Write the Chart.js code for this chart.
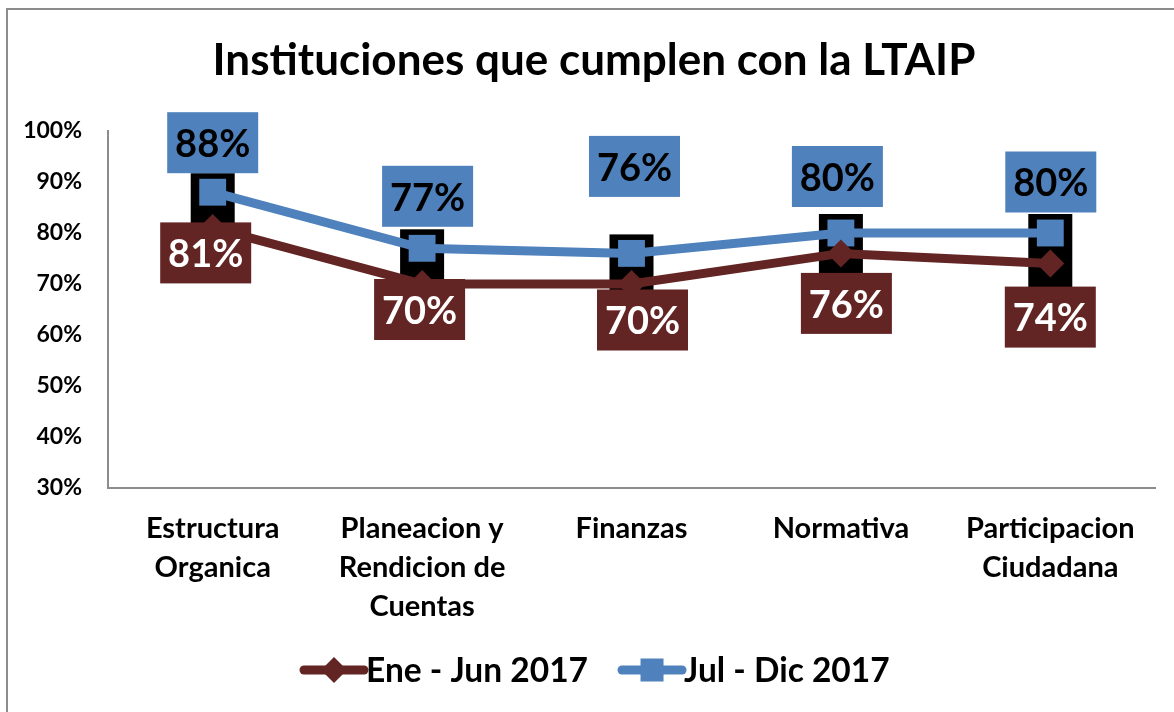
<!DOCTYPE html>
<html>
<head>
<meta charset="utf-8">
<script src="https://cdn.jsdelivr.net/npm/chart.js@4.4.0/dist/chart.umd.min.js"></script>
<style>
  body { margin: 0; background: #fff; }
  #wrap { position: relative; width: 1174px; height: 712px; }
</style>
</head>
<body>
<div id="wrap"><canvas id="myChart"></canvas></div>
<script>
// chart values
const categories = [
  ["Estructura", "Organica"],
  ["Planeacion y", "Rendicion de", "Cuentas"],
  ["Finanzas"],
  ["Normativa"],
  ["Participacion", "Ciudadana"]
];
const eneJun = [81, 70, 70, 76, 74];
const julDic = [88, 77, 76, 80, 80];
const seriesNames = ["Ene - Jun 2017", "Jul - Dic 2017"];
const chartTitle = "Instituciones que cumplen con la LTAIP";
const yMin = 30;
const yMax = 100;
const yStep = 10;

const RED = "#632523";
const BLUE = "#4f81bd";
const FONT = "Lato, 'Open Sans', sans-serif";

// where each value box sits, relative to its point (hand placed in the original)
const labelOffsets = {
  0: [[-7, 25], [-2.5, 25.5], [11, 36], [5.5, 50], [0, 53.5]],
  1: [[0, -49.5], [5.5, -52], [3, -87], [-3.5, -56.5], [0.5, -51]]
};

// black blocks behind the markers
const blockPlugin = {
  id: "blocks",
  beforeDatasetsDraw(chart) {
    const ctx = chart.ctx;
    const red = chart.getDatasetMeta(0).data;
    const blue = chart.getDatasetMeta(1).data;
    ctx.save();
    ctx.fillStyle = "#000";
    for (let i = 0; i < blue.length; i++) {
      const x = blue[i].x;
      const top = blue[i].y - 19;
      const bottom = red[i].y + 30;
      ctx.fillRect(x - 22, top, 44, bottom - top);
    }
    ctx.restore();
  }
};

// value boxes
const valuePlugin = {
  id: "values",
  afterDatasetsDraw(chart) {
    const ctx = chart.ctx;
    ctx.save();
    ctx.font = "bold 38px " + FONT;
    ctx.textAlign = "center";
    ctx.textBaseline = "middle";
    chart.data.datasets.forEach((ds, d) => {
      chart.getDatasetMeta(d).data.forEach((pt, i) => {
        const off = labelOffsets[d][i];
        const cx = pt.x + off[0];
        const cy = pt.y + off[1];
        ctx.fillStyle = d === 0 ? RED : BLUE;
        ctx.fillRect(cx - 45.5, cy - 30.5, 91, 61);
        ctx.fillStyle = d === 0 ? "#fff" : "#000";
        ctx.fillText(ds.data[i] + "%", cx, cy + 2);
      });
    });
    ctx.restore();
  }
};

// title, legend with line + marker, and the outer frame
const legendPlugin = {
  id: "lineLegend",
  afterDraw(chart) {
    const ctx = chart.ctx;
    ctx.save();
    ctx.strokeStyle = "#8c8c8c";
    ctx.lineWidth = 2;
    ctx.strokeRect(7, 9, 1200, 720);

    ctx.fillStyle = "#000";
    ctx.font = "bold 44px " + FONT;
    ctx.textAlign = "center";
    ctx.textBaseline = "middle";
    ctx.fillText(chartTitle, 594, 60.5);

    ctx.font = "bold 33.5px " + FONT;
    ctx.textAlign = "left";
    const y = 670;
    let x = 304;
    chart.data.datasets.forEach((ds, d) => {
      ctx.strokeStyle = ds.borderColor;
      ctx.lineWidth = 9;
      ctx.lineCap = "round";
      ctx.beginPath();
      ctx.moveTo(x, y);
      ctx.lineTo(x + 60, y);
      ctx.stroke();
      ctx.fillStyle = ds.borderColor;
      const mx = x + 30;
      if (d === 0) {
        ctx.beginPath();
        ctx.moveTo(mx - 13, y);
        ctx.lineTo(mx, y - 13);
        ctx.lineTo(mx + 13, y);
        ctx.lineTo(mx, y + 13);
        ctx.closePath();
        ctx.fill();
      } else {
        ctx.fillRect(mx - 11.5, y - 11.5, 23, 23);
      }
      ctx.fillStyle = "#000";
      ctx.fillText(ds.label, x + 62, y + 1);
      x += 62 + ctx.measureText(ds.label).width + 34;
    });
    ctx.restore();
  }
};

const ctx = document.getElementById("myChart").getContext("2d");
const myChart = new Chart(ctx, {
  type: "line",
  data: {
    labels: categories,
    datasets: [
      {
        label: seriesNames[0],
        data: eneJun,
        borderColor: RED,
        backgroundColor: RED,
        borderWidth: 9,
        pointStyle: "rectRot",
        pointRadius: 14,
        pointBorderWidth: 0,
        tension: 0
      },
      {
        label: seriesNames[1],
        data: julDic,
        borderColor: BLUE,
        backgroundColor: BLUE,
        borderWidth: 9,
        pointStyle: "rect",
        pointRadius: 19,
        pointBorderWidth: 0,
        tension: 0
      }
    ]
  },
  options: {
    responsive: true,
    maintainAspectRatio: false,
    animation: false,
    layout: { padding: { top: 131, right: 19, bottom: 0, left: 0 } },
    plugins: {
      legend: { display: false },
      tooltip: { enabled: false },
      title: { display: false }
    },
    scales: {
      x: {
        offset: true,
        grid: { display: false, drawTicks: false },
        border: { display: true, color: "#8c8c8c", width: 2 },
        ticks: {
          color: "#000",
          font: { family: FONT, size: 29, weight: "bold", lineHeight: 1.345 },
          padding: 21,
          maxRotation: 0,
          autoSkip: false
        },
        afterFit(scale) { scale.height = 224; }
      },
      y: {
        min: yMin,
        max: yMax,
        grid: { display: false, drawTicks: false },
        border: { display: true, color: "#8c8c8c", width: 2 },
        ticks: {
          stepSize: yStep,
          color: "#000",
          font: { family: FONT, size: 23, weight: "bold" },
          padding: 26,
          callback: (v) => v + "%"
        },
        afterFit(scale) { scale.width = 108; }
      }
    }
  },
  plugins: [blockPlugin, valuePlugin, legendPlugin]
});
</script>
</body>
</html>
